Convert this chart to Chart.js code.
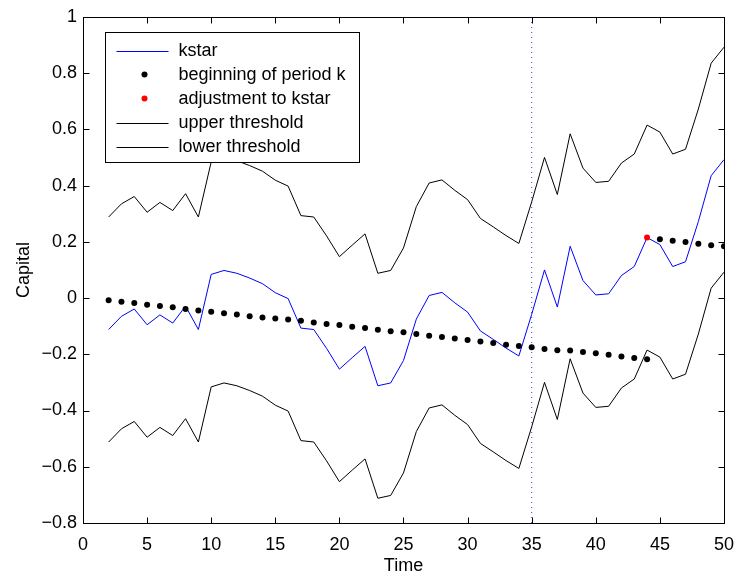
<!DOCTYPE html>
<html><head><meta charset="utf-8">
<script src="https://cdn.jsdelivr.net/npm/chart.js@4.4.1/dist/chart.umd.min.js"></script>
<style>html,body{margin:0;padding:0;background:#fff;}#wrap{width:745px;height:577px;}</style>
</head><body><div id="wrap"><canvas id="c" width="745" height="577"></canvas></div>
<script>
const time = [2,3,4,5,6,7,8,9,10,11,12,13,14,15,16,17,18,19,20,21,22,23,24,25,26,27,28,29,30,31,32,33,34,35,36,37,38,39,40,41,42,43,44,45,46,47,48,49,50];
const kstar = [-0.112,-0.065,-0.039,-0.095,-0.060,-0.089,-0.029,-0.112,0.084,0.098,0.088,0.071,0.051,0.019,-0.002,-0.107,-0.112,-0.179,-0.253,-0.212,-0.172,-0.312,-0.302,-0.222,-0.075,0.009,0.020,-0.017,-0.050,-0.117,-0.147,-0.178,-0.206,-0.058,0.100,-0.032,0.184,0.062,0.011,0.015,0.080,0.112,0.215,0.190,0.112,0.129,0.272,0.435,0.492];
const periodK = [-0.008,-0.013,-0.018,-0.024,-0.028,-0.033,-0.039,-0.044,-0.049,-0.054,-0.059,-0.065,-0.069,-0.073,-0.076,-0.081,-0.087,-0.092,-0.096,-0.102,-0.107,-0.113,-0.118,-0.122,-0.128,-0.134,-0.139,-0.144,-0.149,-0.155,-0.160,-0.166,-0.171,-0.175,-0.181,-0.186,-0.187,-0.192,-0.196,-0.202,-0.208,-0.213,-0.218,0.209,0.204,0.199,0.193,0.188,0.184];
const upperThreshold = [0.288,0.335,0.361,0.305,0.340,0.311,0.371,0.288,0.484,0.498,0.488,0.471,0.451,0.419,0.398,0.293,0.288,0.221,0.147,0.188,0.228,0.088,0.098,0.178,0.325,0.409,0.420,0.383,0.350,0.283,0.253,0.222,0.194,0.342,0.500,0.368,0.584,0.462,0.411,0.415,0.480,0.512,0.615,0.590,0.512,0.529,0.672,0.835,0.892];
const lowerThreshold = [-0.512,-0.465,-0.439,-0.495,-0.460,-0.489,-0.429,-0.512,-0.316,-0.302,-0.312,-0.329,-0.349,-0.381,-0.402,-0.507,-0.512,-0.579,-0.653,-0.612,-0.572,-0.712,-0.702,-0.622,-0.475,-0.391,-0.380,-0.417,-0.450,-0.517,-0.547,-0.578,-0.606,-0.458,-0.300,-0.432,-0.216,-0.338,-0.389,-0.385,-0.320,-0.288,-0.185,-0.210,-0.288,-0.271,-0.128,0.035,0.092];
const adjTime = [44];
const adjValue = [0.215];
const switchTime = [35, 35];
const switchRange = [-0.8, 1];
const xTickValues = [0,5,10,15,20,25,30,35,40,45,50];
const yTickValues = [-0.8,-0.6,-0.4,-0.2,0,0.2,0.4,0.6,0.8,1];
const legendOrder = ['kstar', 'beginning of period k', 'adjustment to kstar', 'upper threshold', 'lower threshold'];

const pts = (xs, ys) => xs.map((x, i) => ({x: x, y: ys[i]}));
const FONT = "'Liberation Sans', Arial, Helvetica, sans-serif";
const BLUE = '#0000ff';

const framePlugin = {
  id: 'frame',
  afterDraw(chart) {
    const ctx = chart.ctx, a = chart.chartArea;
    const xs = chart.scales.x, ys = chart.scales.y;
    ctx.save();
    ctx.setLineDash([]);
    ctx.strokeStyle = '#000';
    ctx.lineWidth = 1;
    const L = Math.round(a.left) + 0.5, R = Math.round(a.right) + 0.5, T = Math.round(a.top) + 0.5, B = Math.round(a.bottom) + 0.5;
    ctx.beginPath();
    xTickValues.forEach(v => {
      const p = Math.round(xs.getPixelForValue(v)) + 0.5;
      ctx.moveTo(p, B); ctx.lineTo(p, B - 6);
      ctx.moveTo(p, T); ctx.lineTo(p, T + 6);
    });
    yTickValues.forEach(v => {
      const p = Math.round(ys.getPixelForValue(v)) + 0.5;
      ctx.moveTo(L, p); ctx.lineTo(L + 6, p);
      ctx.moveTo(R, p); ctx.lineTo(R - 6, p);
    });
    ctx.stroke();
    ctx.strokeRect(L, T, R - L, B - T);

    // legend
    const bx = L + 22, by = T + 15, bw = 254, bh = 130;
    ctx.fillStyle = '#fff';
    ctx.fillRect(bx, by, bw, bh);
    ctx.strokeStyle = '#000';
    ctx.strokeRect(bx, by, bw, bh);
    const items = legendOrder.map(lbl => chart.data.datasets.find(d => d.label === lbl));
    ctx.font = '18px ' + FONT;
    ctx.textBaseline = 'middle';
    ctx.textAlign = 'left';
    items.forEach((d, i) => {
      const cy = by + 18 + i * 24;
      if (d.showLine === false) {
        ctx.fillStyle = d.backgroundColor;
        ctx.beginPath();
        ctx.arc(bx + 39, cy, d.pointRadius, 0, Math.PI * 2);
        ctx.fill();
      } else {
        ctx.beginPath();
        ctx.strokeStyle = d.borderColor;
        ctx.lineWidth = d.borderWidth;
        ctx.moveTo(bx + 11, Math.round(cy) + 0.5);
        ctx.lineTo(bx + 63, Math.round(cy) + 0.5);
        ctx.stroke();
      }
      ctx.fillStyle = '#000';
      ctx.fillText(d.label, bx + 73, cy + 1);
    });
    ctx.restore();
  }
};

new Chart(document.getElementById('c'), {
  type: 'line',
  data: {
    datasets: [
      {label: 'switch', data: pts(switchTime, switchRange), borderColor: 'rgba(30,30,200,0.85)', borderWidth: 1, borderDash: [1, 4], pointRadius: 0, order: 5},
      {label: 'upper threshold', data: pts(time, upperThreshold), borderColor: '#000000', borderWidth: 1, pointRadius: 0, tension: 0, order: 3},
      {label: 'lower threshold', data: pts(time, lowerThreshold), borderColor: '#000000', borderWidth: 1, pointRadius: 0, tension: 0, order: 4},
      {label: 'kstar', data: pts(time, kstar), borderColor: BLUE, borderWidth: 1, pointRadius: 0, tension: 0, order: 2},
      {label: 'beginning of period k', data: pts(time, periodK), showLine: false, pointRadius: 3, pointBorderWidth: 0, backgroundColor: '#000000', borderColor: '#000000', order: 1},
      {label: 'adjustment to kstar', data: pts(adjTime, adjValue), showLine: false, pointRadius: 3, pointBorderWidth: 0, backgroundColor: '#ff0000', borderColor: '#ff0000', order: 0}
    ]
  },
  options: {
    responsive: false,
    animation: false,
    devicePixelRatio: 1,
    layout: {padding: {left: 0, right: 13, top: 13, bottom: 0}},
    plugins: {legend: {display: false}, tooltip: {enabled: false}},
    scales: {
      x: {
        type: 'linear', min: 0, max: 50,
        afterFit: s => { s.height = 54; },
        afterBuildTicks: s => { s.ticks = xTickValues.map(v => ({value: v})); },
        grid: {display: false, drawTicks: false}, border: {display: false},
        ticks: {color: '#000', font: {size: 18, family: FONT}, padding: 11, maxRotation: 0, autoSkip: false},
        title: {display: true, text: 'Time', color: '#000', font: {size: 18, family: FONT}, padding: {top: 0, bottom: 0}}
      },
      y: {
        type: 'linear', min: -0.8, max: 1,
        afterFit: s => { s.width = 83; },
        afterBuildTicks: s => { s.ticks = yTickValues.map(v => ({value: v})); },
        grid: {display: false, drawTicks: false}, border: {display: false},
        ticks: {color: '#000', font: {size: 18, family: FONT}, padding: 6, autoSkip: false,
          callback: v => { const n = Number(v.toFixed(1)); return n < 0 ? '\u2212' + Math.abs(n) : String(n); }},
        title: {display: true, text: 'Capital', color: '#000', font: {size: 18, family: FONT}, padding: {top: 13, bottom: 0}}
      }
    }
  },
  plugins: [framePlugin]
});
</script></body></html>
